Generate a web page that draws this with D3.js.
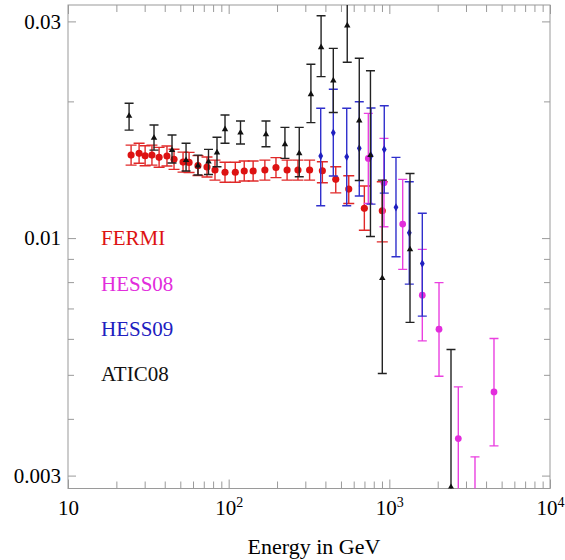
<!DOCTYPE html>
<html>
<head>
<meta charset="utf-8">
<script src="https://cdn.jsdelivr.net/npm/d3@7"></script>
<style>
  html, body { margin: 0; padding: 0; background: #fff; }
  svg { display: block; }
  svg text { font-family: "Liberation Serif", "Times New Roman", serif; }
</style>
</head>
<body>
<svg id="chart" width="565" height="560"></svg>
<script>
// Electron spectrum E^3 J(E) versus energy (GeV), with error-bar limits.

// Fermi-LAT
const fermiE  = [24.7, 27.7, 30.2, 33.3, 36.9, 41.3, 45.7, 52.0, 56.7, 64.4, 73.3, 82.2, 94.9,
                 110, 125, 142, 168, 197, 231, 270, 319, 383, 464, 559, 699, 904];
const fermiV  = [0.01523, 0.01537, 0.01518, 0.01523, 0.01506, 0.01516, 0.01491, 0.01470, 0.01468,
                 0.01444, 0.01434, 0.01412, 0.01396, 0.01396, 0.01405, 0.01405, 0.01412, 0.01430,
                 0.01412, 0.01412, 0.01412, 0.01407, 0.01347, 0.01282, 0.01163, 0.01149];
const fermiLo = [0.01448, 0.01461, 0.01443, 0.01448, 0.01432, 0.01441, 0.01417, 0.01397, 0.01395,
                 0.01373, 0.01363, 0.01342, 0.01327, 0.01327, 0.01336, 0.01336, 0.01342, 0.01359,
                 0.01342, 0.01342, 0.01342, 0.01324, 0.01258, 0.01192, 0.01041, 0.00981];
const fermiHi = [0.01602, 0.01617, 0.01597, 0.01602, 0.01584, 0.01595, 0.01569, 0.01546, 0.01544,
                 0.01519, 0.01509, 0.01485, 0.01469, 0.01469, 0.01478, 0.01478, 0.01485, 0.01504,
                 0.01485, 0.01485, 0.01485, 0.01473, 0.01436, 0.01372, 0.01302, 0.01331];

// H.E.S.S. 2008
const hess08E  = [740, 926, 1211, 1604, 2038, 2687, 3413, 4481];
const hess08V  = [0.01498, 0.01324, 0.01074, 0.007489, 0.006302, 0.003620, 0.002521, 0.004586];
const hess08Lo = [0.01192, 0.01059, 0.008532, 0.005939, 0.004965, 0.002786, 0.001924, 0.003487];
const hess08Hi = [0.01882, 0.01658, 0.01347, 0.009443, 0.007980, 0.004703, 0.003299, 0.006012];

// H.E.S.S. 2009
const hess09E  = [374, 448, 543, 650, 769, 930, 1100, 1331, 1604];
const hess09V  = [0.01516, 0.01706, 0.01510, 0.01576, 0.01518, 0.01568, 0.01169, 0.01027, 0.008787];
const hess09Lo = [0.01178, 0.01370, 0.01178, 0.01238, 0.01188, 0.01256, 0.009096, 0.007918, 0.006733];
const hess09Hi = [0.01931, 0.02126, 0.01931, 0.01996, 0.01934, 0.01956, 0.01506, 0.01331, 0.01134];

// ATIC 2008
const aticE  = [24.0, 34.3, 44.4, 54.3, 64.4, 74.9, 84.6, 94.9, 118.5, 170.7, 224, 275, 325, 376,
                448, 547, 650, 763, 904, 1345, 2420];
const aticV  = [0.01857, 0.01661, 0.01562, 0.01485, 0.01444, 0.01473, 0.01543, 0.01736, 0.01706,
                0.01692, 0.01609, 0.01537, 0.02073, 0.02631, 0.02223, 0.02938, 0.01815, 0.01522,
                0.008163, 0.009443, 0.002830];
const aticLo = [0.01729, 0.01562, 0.01463, 0.01405, 0.01377, 0.01380, 0.01436, 0.01617, 0.01611,
                0.01589, 0.01498, 0.01365, 0.01796, 0.02267, 0.01890, 0.02438, 0.01339, 0.01008,
                0.005033, 0.006522, 0.00120];
const aticHi = [0.01981, 0.01774, 0.01686, 0.01617, 0.01523, 0.01568, 0.01667, 0.01866, 0.01810,
                0.01810, 0.01753, 0.01753, 0.02414, 0.03088, 0.02617, 0.03536, 0.02488, 0.02336,
                0.01342, 0.01388, 0.005685];

// Axis ticks and labels
const xMajor = [10, 100, 1000, 10000];
const xMajorExp = ["", "2", "3", "4"];
const xMinor = [20, 30, 40, 50, 60, 70, 80, 90, 200, 300, 400, 500, 600, 700, 800, 900,
                2000, 3000, 4000, 5000, 6000, 7000, 8000, 9000];
const yMajor = [0.003, 0.01, 0.03];
const yMajorLabels = ["0.003", "0.01", "0.03"];
const yMinor = [0.004, 0.005, 0.006, 0.007, 0.008, 0.009, 0.02];
const xTitle = "Energy in GeV";

const legendNames = ["FERMI", "HESS08", "HESS09", "ATIC08"];

// ---- layout ----
const FONT = '"Liberation Serif"';
const FS = 21;
const L = 68, R = 550, T = 5, B = 488.5;
const svg = d3.select("#chart");

const x = d3.scaleLog().domain([10, 10000]).range([L, R]);
const y = d3.scaleLog().domain([0.00281, 0.0326]).range([B, T]);

const frameColor = "#9a9a9a";

svg.append("defs").append("clipPath").attr("id", "plotClip")
  .append("rect").attr("x", L).attr("y", T).attr("width", R - L).attr("height", B - T);

function setFont(sel, size) {
  sel.attr("font-family", "Liberation Serif").attr("font-size", size)
    .style("font-family", FONT).style("font-size", size + "px");
}

function styleAxis(g) {
  g.select(".domain").remove();
  setFont(g, FS);
  g.selectAll(".tick line").attr("stroke", frameColor).attr("stroke-width", 1);
  const t = g.selectAll(".tick text").attr("fill", "#000");
  setFont(t, FS);
}

// minor ticks on all four sides
svg.append("g").attr("transform", `translate(0,${B})`)
  .call(d3.axisBottom(x).tickValues(xMinor).tickSize(-7).tickFormat(""))
  .call(styleAxis);
svg.append("g").attr("transform", `translate(0,${T})`)
  .call(d3.axisTop(x).tickValues(xMinor).tickSize(-7).tickFormat(""))
  .call(styleAxis);
svg.append("g").attr("transform", `translate(${L},0)`)
  .call(d3.axisLeft(y).tickValues(yMinor).tickSize(-6).tickFormat(""))
  .call(styleAxis);
svg.append("g").attr("transform", `translate(${R},0)`)
  .call(d3.axisRight(y).tickValues(yMinor).tickSize(-6).tickFormat(""))
  .call(styleAxis);

// major ticks
const xAxisG = svg.append("g").attr("transform", `translate(0,${B})`)
  .call(d3.axisBottom(x).tickValues(xMajor).tickSize(-9).tickPadding(12).tickFormat(() => "10"))
  .call(styleAxis);
xAxisG.selectAll(".tick text").each(function (d, i) {
  if (xMajorExp[i]) {
    const ts = d3.select(this).append("tspan").attr("dy", -8).text(xMajorExp[i]);
    setFont(ts, 14);
  }
});
svg.append("g").attr("transform", `translate(0,${T})`)
  .call(d3.axisTop(x).tickValues(xMajor).tickSize(-9).tickFormat(""))
  .call(styleAxis);
svg.append("g").attr("transform", `translate(${L},0)`)
  .call(d3.axisLeft(y).tickValues(yMajor).tickSize(-8).tickPadding(7)
    .tickFormat((d, i) => yMajorLabels[i]))
  .call(styleAxis);
svg.append("g").attr("transform", `translate(${R},0)`)
  .call(d3.axisRight(y).tickValues(yMajor).tickSize(-8).tickFormat(""))
  .call(styleAxis);

// frame
svg.append("rect").attr("x", L).attr("y", T).attr("width", R - L).attr("height", B - T)
  .attr("fill", "none").attr("stroke", frameColor).attr("stroke-width", 1);

// axis title
svg.append("text").attr("x", 314).attr("y", 554).attr("text-anchor", "middle")
  .attr("fill", "#000").text(xTitle).call(setFont, 22);

// ---- data series ----
const plot = svg.append("g").attr("clip-path", "url(#plotClip)");

function drawSeries(E, V, Lo, Hi, opts) {
  const data = E.map((e, i) => ({ e, v: V[i], lo: Lo[i], hi: Hi[i] }));
  const g = plot.append("g");
  const bars = g.selectAll("g.bar").data(data).join("g").attr("class", "bar")
    .attr("stroke", opts.barColor).attr("stroke-width", 1.4).attr("fill", "none");
  bars.append("line")
    .attr("x1", d => x(d.e)).attr("x2", d => x(d.e))
    .attr("y1", d => y(d.lo)).attr("y2", d => y(d.hi));
  bars.append("line")
    .attr("x1", d => x(d.e) - opts.cap).attr("x2", d => x(d.e) + opts.cap)
    .attr("y1", d => y(d.hi)).attr("y2", d => y(d.hi));
  bars.append("line")
    .attr("x1", d => x(d.e) - opts.cap).attr("x2", d => x(d.e) + opts.cap)
    .attr("y1", d => y(d.lo)).attr("y2", d => y(d.lo));
  g.selectAll("path.mark").data(data).join("path").attr("class", "mark")
    .attr("transform", d => `translate(${x(d.e)},${y(d.v)})`)
    .attr("d", d3.symbol().type(opts.symbol).size(opts.size))
    .attr("fill", opts.color);
}

const colors = { fermi: "#dd1212", hess08: "#e22ddc", hess09: "#2020c0", atic: "#111111" };

drawSeries(fermiE, fermiV, fermiLo, fermiHi,
  { color: colors.fermi, barColor: "#e02828", cap: 5.5, symbol: d3.symbolCircle, size: 40 });
drawSeries(hess08E, hess08V, hess08Lo, hess08Hi,
  { color: colors.hess08, barColor: "#ea40e0", cap: 4.5, symbol: d3.symbolCircle, size: 36 });
drawSeries(hess09E, hess09V, hess09Lo, hess09Hi,
  { color: colors.hess09, barColor: "#3030cc", cap: 4.5, symbol: d3.symbolDiamond, size: 20 });
drawSeries(aticE, aticV, aticLo, aticHi,
  { color: colors.atic, barColor: "#222", cap: 4.5, symbol: d3.symbolTriangle, size: 18 });

// legend
const legendColors = [colors.fermi, colors.hess08, colors.hess09, colors.atic];
const legendBase = [245, 290.5, 335.5, 381];
svg.append("g").selectAll("text").data(legendNames).join("text")
  .attr("x", 101).attr("y", (d, i) => legendBase[i])
  .attr("fill", (d, i) => legendColors[i])
  .text(d => d)
  .call(setFont, FS);
</script>
</body>
</html>
